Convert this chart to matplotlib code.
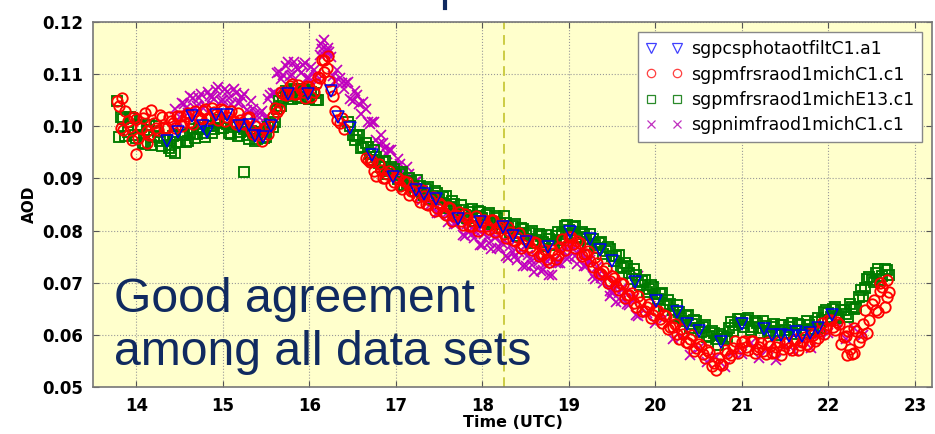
import matplotlib
matplotlib.use('Agg')
import matplotlib.pyplot as plt
from matplotlib.lines import Line2D
import numpy as np

# ---- data (time in UTC hours, AOD) ----
# each instrument is given as two interleaved passes of readings (a, b)

# sgpmfrsraod1michC1.c1 (red circles)
red_time_a = [13.80, 13.85, 13.90, 13.95, 14.00, 14.05, 14.10, 14.15, 14.20, 14.25,
              14.30, 14.35, 14.40, 14.45, 14.50, 14.55, 14.60, 14.65, 14.70, 14.75,
              14.80, 14.85, 14.90, 14.95, 15.00, 15.05, 15.10, 15.15, 15.20, 15.25,
              15.30, 15.35, 15.40, 15.45, 15.50, 15.55, 15.60, 15.65, 15.70, 15.75,
              15.80, 15.85, 15.90, 15.95, 16.00, 16.05, 16.10, 16.15, 16.20, 16.25,
              16.30, 16.35, 16.40, 16.65, 16.70, 16.75,
              16.80, 16.85, 16.90, 16.95, 17.00, 17.05, 17.10, 17.15, 17.20, 17.25,
              17.30, 17.35, 17.40, 17.45, 17.50, 17.55, 17.60, 17.65, 17.70, 17.75,
              17.80, 17.85, 17.90, 17.95, 18.00, 18.05, 18.10, 18.15, 18.20, 18.25,
              18.30, 18.35, 18.40, 18.45, 18.50, 18.55, 18.60, 18.65, 18.70, 18.75,
              18.80, 18.85, 18.90, 18.95, 19.00, 19.05, 19.10, 19.15, 19.20, 19.25,
              19.30, 19.35, 19.40, 19.45, 19.50, 19.55, 19.60, 19.65, 19.70, 19.75,
              19.80, 19.85, 19.90, 19.95, 20.00, 20.05, 20.10, 20.15, 20.20, 20.25,
              20.30, 20.35, 20.40, 20.45, 20.50, 20.55, 20.60, 20.65, 20.70, 20.75,
              20.80, 20.85, 20.90, 20.95, 21.00, 21.05, 21.10, 21.15, 21.20, 21.25,
              21.30, 21.35, 21.40, 21.45, 21.50, 21.55, 21.60, 21.65, 21.70, 21.75,
              21.80, 21.85, 21.90, 21.95, 22.00, 22.05, 22.10, 22.15, 22.20, 22.25,
              22.30, 22.35, 22.40, 22.45, 22.50, 22.55, 22.60, 22.65, 22.70,
              13.78, 13.83, 14.00, 14.12, 16.17, 16.22, 22.22, 22.30, 22.60, 22.68]
red_aod_a = [0.1039, 0.0992, 0.1011, 0.0974, 0.1014, 0.0997, 0.1025, 0.0983, 0.1007, 0.0993,
             0.1017, 0.0996, 0.1011, 0.0997, 0.1019, 0.1009, 0.1025, 0.1004, 0.1019, 0.1014,
             0.1034, 0.1016, 0.1028, 0.1012, 0.1032, 0.1018, 0.1030, 0.1004, 0.1013, 0.1004,
             0.1017, 0.0986, 0.0988, 0.0972, 0.0997, 0.1001, 0.1035, 0.1034, 0.1061, 0.1062,
             0.1082, 0.1061, 0.1071, 0.1055, 0.1075, 0.1066, 0.1095, 0.1128, 0.1112, 0.1069,
             0.1030, 0.1006, 0.0995, 0.0940, 0.0931, 0.0914,
             0.0927, 0.0901, 0.0908, 0.0887, 0.0902, 0.0886, 0.0895, 0.0869, 0.0876, 0.0864,
             0.0877, 0.0851, 0.0858, 0.0837, 0.0852, 0.0836, 0.0845, 0.0819, 0.0829, 0.0819,
             0.0832, 0.0809, 0.0818, 0.0800, 0.0819, 0.0808, 0.0820, 0.0797, 0.0806, 0.0794,
             0.0807, 0.0781, 0.0788, 0.0767, 0.0782, 0.0768, 0.0778, 0.0751, 0.0756, 0.0746,
             0.0762, 0.0746, 0.0768, 0.0762, 0.0787, 0.0774, 0.0780, 0.0751, 0.0756, 0.0742,
             0.0750, 0.0719, 0.0723, 0.0699, 0.0712, 0.0694, 0.0700, 0.0671, 0.0676, 0.0662,
             0.0674, 0.0646, 0.0653, 0.0632, 0.0647, 0.0631, 0.0638, 0.0611, 0.0616, 0.0602,
             0.0612, 0.0586, 0.0593, 0.0569, 0.0582, 0.0564, 0.0570, 0.0541, 0.0532, 0.0544,
             0.0570, 0.0556, 0.0575, 0.0565, 0.0587, 0.0576, 0.0588, 0.0565, 0.0576, 0.0569,
             0.0587, 0.0565, 0.0577, 0.0562, 0.0584, 0.0574, 0.0590, 0.0571, 0.0586, 0.0582,
             0.0604, 0.0589, 0.0608, 0.0602, 0.0629, 0.0616, 0.0625, 0.0583, 0.0597, 0.0573,
             0.0614, 0.0587, 0.0621, 0.0604, 0.0659, 0.0647, 0.0685, 0.0653, 0.0682,
             0.1048, 0.1055, 0.0947, 0.0968, 0.1105, 0.1135, 0.0562, 0.0565, 0.0700, 0.0705]
red_time_b = [13.825, 13.875, 13.925, 13.975, 14.025, 14.075, 14.125, 14.175, 14.225, 14.275,
              14.325, 14.375, 14.425, 14.475, 14.525, 14.575, 14.625, 14.675, 14.725, 14.775,
              14.825, 14.875, 14.925, 14.975, 15.025, 15.075, 15.125, 15.175, 15.225, 15.275,
              15.325, 15.375, 15.425, 15.475, 15.525, 15.575, 15.625, 15.675, 15.725, 15.775,
              15.825, 15.875, 15.925, 15.975, 16.025, 16.075, 16.125, 16.175, 16.225, 16.275,
              16.325, 16.375,
              16.675, 16.725, 16.775, 16.825, 16.875, 16.925, 16.975, 17.025, 17.075, 17.125,
              17.175, 17.225, 17.275, 17.325, 17.375, 17.425, 17.475, 17.525, 17.575, 17.625,
              17.675, 17.725, 17.775, 17.825, 17.875, 17.925, 17.975, 18.025, 18.075, 18.125,
              18.175, 18.225, 18.275, 18.325, 18.375, 18.425, 18.475, 18.525, 18.575, 18.625,
              18.675, 18.725, 18.775, 18.825, 18.875, 18.925, 18.975, 19.025, 19.075, 19.125,
              19.175, 19.225, 19.275, 19.325, 19.375, 19.425, 19.475, 19.525, 19.575, 19.625,
              19.675, 19.725, 19.775, 19.825, 19.875, 19.925, 19.975, 20.025, 20.075, 20.125,
              20.175, 20.225, 20.275, 20.325, 20.375, 20.425, 20.475, 20.525, 20.575, 20.625,
              20.675, 20.725, 20.775, 20.825, 20.875, 20.925, 20.975, 21.025, 21.075, 21.125,
              21.175, 21.225, 21.275, 21.325, 21.375, 21.425, 21.475, 21.525, 21.575, 21.625,
              21.675, 21.725, 21.775, 21.825, 21.875, 21.925, 21.975, 22.025, 22.075, 22.125,
              22.175, 22.225, 22.275, 22.325, 22.375, 22.425, 22.475, 22.525, 22.575, 22.625,
              22.675]
red_aod_b = [0.0996, 0.1029, 0.0998, 0.1018, 0.0978, 0.1015, 0.0991, 0.1031, 0.0997, 0.1021,
             0.0997, 0.1017, 0.1007, 0.1020, 0.1000, 0.1019, 0.1008, 0.1029, 0.1015, 0.1029,
             0.1015, 0.1036, 0.1023, 0.1034, 0.1011, 0.1026, 0.1010, 0.1026, 0.1007, 0.1015,
             0.0992, 0.1001, 0.0983, 0.0996, 0.0985, 0.1020, 0.1028, 0.1065, 0.1060, 0.1077,
             0.1062, 0.1080, 0.1066, 0.1077, 0.1057, 0.1082, 0.1093, 0.1128, 0.1086, 0.1058,
             0.1012, 0.1016,
             0.0935, 0.0934, 0.0905, 0.0917, 0.0900, 0.0915, 0.0893, 0.0900, 0.0879, 0.0893,
             0.0875, 0.0881, 0.0855, 0.0867, 0.0850, 0.0865, 0.0843, 0.0850, 0.0829, 0.0843,
             0.0827, 0.0835, 0.0810, 0.0824, 0.0809, 0.0827, 0.0808, 0.0820, 0.0803, 0.0820,
             0.0804, 0.0811, 0.0785, 0.0797, 0.0780, 0.0795, 0.0773, 0.0781, 0.0762, 0.0776,
             0.0756, 0.0762, 0.0739, 0.0757, 0.0753, 0.0783, 0.0773, 0.0787, 0.0766, 0.0777,
             0.0756, 0.0760, 0.0731, 0.0738, 0.0717, 0.0729, 0.0704, 0.0709, 0.0686, 0.0697,
             0.0676, 0.0680, 0.0653, 0.0663, 0.0645, 0.0660, 0.0638, 0.0645, 0.0623, 0.0636,
             0.0616, 0.0620, 0.0592, 0.0602, 0.0585, 0.0599, 0.0574, 0.0579, 0.0556, 0.0567,
             0.0546, 0.0556, 0.0542, 0.0566, 0.0561, 0.0588, 0.0575, 0.0588, 0.0571, 0.0588,
             0.0573, 0.0584, 0.0563, 0.0579, 0.0567, 0.0587, 0.0572, 0.0585, 0.0571, 0.0592,
             0.0581, 0.0595, 0.0578, 0.0600, 0.0594, 0.0623, 0.0614, 0.0629, 0.0609, 0.0621,
             0.0596, 0.0608, 0.0563, 0.0607, 0.0596, 0.0648, 0.0629, 0.0666, 0.0644, 0.0692,
             0.0673]

# sgpmfrsraod1michE13.c1 (green squares)
green_time_a = [13.80, 13.85, 13.90, 13.95, 14.00, 14.05, 14.10, 14.15, 14.20, 14.25,
                14.30, 14.35, 14.40, 14.45, 14.50, 14.55, 14.60, 14.65, 14.70, 14.75,
                14.80, 14.85, 14.90, 14.95, 15.00, 15.05, 15.10, 15.15, 15.20, 15.25,
                15.30, 15.35, 15.40, 15.45, 15.50, 15.55, 15.60, 15.65, 15.70, 15.75,
                15.80, 15.85, 15.90, 15.95, 16.00, 16.05, 16.10,
                16.45, 16.50, 16.55, 16.60, 16.65, 16.70, 16.75, 16.80, 16.85, 16.90,
                16.95, 17.00, 17.05, 17.10, 17.15, 17.20, 17.25, 17.30, 17.35, 17.40,
                17.45, 17.50, 17.55, 17.60, 17.65, 17.70, 17.75, 17.80, 17.85, 17.90,
                17.95, 18.00, 18.05, 18.10, 18.15, 18.20, 18.25, 18.30, 18.35, 18.40,
                18.45, 18.50, 18.55, 18.60, 18.65, 18.70, 18.75, 18.80, 18.85, 18.90,
                18.95, 19.00, 19.05, 19.10, 19.15, 19.20, 19.25, 19.30, 19.35, 19.40,
                19.45, 19.50, 19.55, 19.60, 19.65, 19.70, 19.75, 19.80, 19.85, 19.90,
                19.95, 20.00, 20.05, 20.10, 20.15, 20.20, 20.25, 20.30, 20.35, 20.40,
                20.45, 20.50, 20.55, 20.60, 20.65, 20.70, 20.75, 20.80, 20.85, 20.90,
                20.95, 21.00, 21.05, 21.10, 21.15, 21.20, 21.25, 21.30, 21.35, 21.40,
                21.45, 21.50, 21.55, 21.60, 21.65, 21.70, 21.75, 21.80, 21.85, 21.90,
                21.95, 22.00, 22.05, 22.10, 22.15, 22.20, 22.25, 22.30, 22.35, 22.40,
                22.45, 22.50, 22.55, 22.60, 22.65, 22.70,
                13.78, 14.40, 14.45, 15.24]
green_aod_a = [0.0980, 0.1014, 0.0989, 0.1016, 0.0978, 0.0998, 0.0966, 0.1003, 0.0980, 0.0990,
               0.0962, 0.0973, 0.0965, 0.0984, 0.0970, 0.0984, 0.0972, 0.0994, 0.0986, 0.0994,
               0.0980, 0.1001, 0.0994, 0.1012, 0.0996, 0.1004, 0.0986, 0.1002, 0.0989, 0.0994,
               0.0975, 0.0988, 0.0975, 0.0990, 0.0979, 0.1004, 0.1009, 0.1049, 0.1054, 0.1066,
               0.1052, 0.1070, 0.1057, 0.1070, 0.1052, 0.1064, 0.1051,
               0.1009, 0.0984, 0.0981, 0.0958, 0.0968, 0.0947, 0.0954, 0.0929, 0.0932, 0.0909,
               0.0921, 0.0907, 0.0909, 0.0888, 0.0901, 0.0885, 0.0897, 0.0874, 0.0880, 0.0861,
               0.0876, 0.0861, 0.0864, 0.0843, 0.0856, 0.0840, 0.0850, 0.0829, 0.0836, 0.0819,
               0.0837, 0.0824, 0.0829, 0.0812, 0.0828, 0.0815, 0.0827, 0.0804, 0.0809, 0.0789,
               0.0805, 0.0792, 0.0796, 0.0777, 0.0793, 0.0779, 0.0792, 0.0774, 0.0789, 0.0781,
               0.0809, 0.0802, 0.0806, 0.0785, 0.0798, 0.0783, 0.0794, 0.0772, 0.0776, 0.0755,
               0.0769, 0.0751, 0.0751, 0.0728, 0.0738, 0.0719, 0.0727, 0.0702, 0.0704, 0.0682,
               0.0695, 0.0678, 0.0678, 0.0655, 0.0666, 0.0648, 0.0657, 0.0632, 0.0636, 0.0614,
               0.0629, 0.0614, 0.0616, 0.0595, 0.0608, 0.0592, 0.0602, 0.0592, 0.0614, 0.0607,
               0.0631, 0.0622, 0.0628, 0.0610, 0.0626, 0.0613, 0.0627, 0.0608, 0.0616, 0.0599,
               0.0619, 0.0609, 0.0616, 0.0601, 0.0620, 0.0610, 0.0627, 0.0611, 0.0624, 0.0614,
               0.0644, 0.0641, 0.0649, 0.0632, 0.0648, 0.0640, 0.0660, 0.0649, 0.0672, 0.0674,
               0.0707, 0.0705, 0.0718, 0.0706, 0.0726, 0.0715,
               0.1048, 0.0952, 0.0948, 0.0912]
green_time_b = [13.825, 13.875, 13.925, 13.975, 14.025, 14.075, 14.125, 14.175, 14.225, 14.275,
                14.325, 14.375, 14.425, 14.475, 14.525, 14.575, 14.625, 14.675, 14.725, 14.775,
                14.825, 14.875, 14.925, 14.975, 15.025, 15.075, 15.125, 15.175, 15.225, 15.275,
                15.325, 15.375, 15.425, 15.475, 15.525, 15.575, 15.625, 15.675, 15.725, 15.775,
                15.825, 15.875, 15.925, 15.975, 16.025, 16.075,
                16.475, 16.525, 16.575, 16.625, 16.675, 16.725, 16.775, 16.825, 16.875, 16.925,
                16.975, 17.025, 17.075, 17.125, 17.175, 17.225, 17.275, 17.325, 17.375, 17.425,
                17.475, 17.525, 17.575, 17.625, 17.675, 17.725, 17.775, 17.825, 17.875, 17.925,
                17.975, 18.025, 18.075, 18.125, 18.175, 18.225, 18.275, 18.325, 18.375, 18.425,
                18.475, 18.525, 18.575, 18.625, 18.675, 18.725, 18.775, 18.825, 18.875, 18.925,
                18.975, 19.025, 19.075, 19.125, 19.175, 19.225, 19.275, 19.325, 19.375, 19.425,
                19.475, 19.525, 19.575, 19.625, 19.675, 19.725, 19.775, 19.825, 19.875, 19.925,
                19.975, 20.025, 20.075, 20.125, 20.175, 20.225, 20.275, 20.325, 20.375, 20.425,
                20.475, 20.525, 20.575, 20.625, 20.675, 20.725, 20.775, 20.825, 20.875, 20.925,
                20.975, 21.025, 21.075, 21.125, 21.175, 21.225, 21.275, 21.325, 21.375, 21.425,
                21.475, 21.525, 21.575, 21.625, 21.675, 21.725, 21.775, 21.825, 21.875, 21.925,
                21.975, 22.025, 22.075, 22.125, 22.175, 22.225, 22.275, 22.325, 22.375, 22.425,
                22.475, 22.525, 22.575, 22.625, 22.675]
green_aod_b = [0.1017, 0.0982, 0.1017, 0.0983, 0.1002, 0.0967, 0.0992, 0.0965, 0.1000, 0.0971,
               0.0977, 0.0959, 0.0982, 0.0970, 0.0984, 0.0970, 0.0987, 0.0977, 0.0997, 0.0987,
               0.1000, 0.0988, 0.1010, 0.0997, 0.1007, 0.0987, 0.0998, 0.0982, 0.0999, 0.0984,
               0.0991, 0.0972, 0.0990, 0.0977, 0.0998, 0.0999, 0.1033, 0.1038, 0.1067, 0.1059,
               0.1071, 0.1054, 0.1071, 0.1054, 0.1065, 0.1050,
               0.1001, 0.0973, 0.0983, 0.0960, 0.0961, 0.0935, 0.0941, 0.0922, 0.0934, 0.0914,
               0.0919, 0.0898, 0.0912, 0.0891, 0.0896, 0.0875, 0.0885, 0.0869, 0.0884, 0.0867,
               0.0873, 0.0853, 0.0867, 0.0846, 0.0851, 0.0829, 0.0839, 0.0824, 0.0841, 0.0827,
               0.0835, 0.0817, 0.0834, 0.0817, 0.0825, 0.0805, 0.0815, 0.0798, 0.0812, 0.0796,
               0.0803, 0.0784, 0.0800, 0.0782, 0.0789, 0.0770, 0.0783, 0.0773, 0.0798, 0.0794,
               0.0810, 0.0794, 0.0809, 0.0788, 0.0794, 0.0773, 0.0783, 0.0766, 0.0779, 0.0761,
               0.0765, 0.0741, 0.0753, 0.0730, 0.0732, 0.0707, 0.0714, 0.0695, 0.0706, 0.0687,
               0.0691, 0.0668, 0.0680, 0.0657, 0.0660, 0.0637, 0.0644, 0.0626, 0.0638, 0.0620,
               0.0626, 0.0605, 0.0619, 0.0598, 0.0603, 0.0581, 0.0597, 0.0595, 0.0624, 0.0618,
               0.0631, 0.0615, 0.0633, 0.0615, 0.0623, 0.0604, 0.0617, 0.0604, 0.0621, 0.0608,
               0.0619, 0.0603, 0.0622, 0.0607, 0.0618, 0.0603, 0.0619, 0.0609, 0.0632, 0.0628,
               0.0647, 0.0635, 0.0654, 0.0637, 0.0647, 0.0634, 0.0654, 0.0652, 0.0686, 0.0689,
               0.0711, 0.0702, 0.0726, 0.0713, 0.0724]

# sgpnimfraod1michC1.c1 (magenta crosses)
purple_time_a = [14.45, 14.50, 14.55, 14.60, 14.65, 14.70, 14.75, 14.80, 14.85, 14.90,
                 14.95, 15.00, 15.05, 15.10, 15.15, 15.20, 15.25, 15.30, 15.35, 15.40,
                 15.45, 15.50, 15.55, 15.60, 15.65, 15.70, 15.75, 15.80, 15.85, 15.90,
                 15.95, 16.00, 16.05, 16.10, 16.15, 16.20, 16.25, 16.30, 16.35, 16.40,
                 16.45, 16.50, 16.55, 16.60, 16.65, 16.70, 16.75, 16.80, 16.85, 16.90,
                 16.95, 17.00, 17.05, 17.10, 17.15, 17.20, 17.25, 17.30, 17.35, 17.40,
                 17.45, 17.50, 17.55, 17.60, 17.65, 17.70, 17.75, 17.80, 17.85, 17.90,
                 17.95, 18.00, 18.05, 18.10, 18.15, 18.20, 18.25, 18.30, 18.35, 18.40,
                 18.45, 18.50, 18.55, 18.60, 18.65, 18.70, 18.75, 18.80, 18.85, 18.90,
                 18.95, 19.00, 19.05, 19.10, 19.15, 19.20, 19.25, 19.30, 19.35, 19.40,
                 19.45, 19.50, 19.55, 19.60, 19.65, 19.70, 19.75, 19.80,
                 19.90, 20.00, 20.10, 20.20, 20.30, 20.40, 20.50, 20.60, 20.70, 20.80,
                 20.90, 21.00, 21.10, 21.20, 21.30, 21.40, 21.50, 21.60, 21.70, 21.80,
                 21.90, 22.00, 22.10, 22.20, 22.30, 22.40,
                 19.80, 19.55, 19.47, 16.17, 16.13, 16.22]
purple_aod_a = [0.1034, 0.1018, 0.1043, 0.1026, 0.1054, 0.1039, 0.1061, 0.1038, 0.1058, 0.1052,
                0.1076, 0.1050, 0.1065, 0.1042, 0.1064, 0.1046, 0.1061, 0.1028, 0.1034, 0.1012,
                0.1029, 0.1018, 0.1060, 0.1064, 0.1104, 0.1099, 0.1123, 0.1098, 0.1114, 0.1102,
                0.1122, 0.1093, 0.1107, 0.1089, 0.1149, 0.1144, 0.1133, 0.1086, 0.1092, 0.1072,
                0.1084, 0.1048, 0.1060, 0.1024, 0.1034, 0.1004, 0.1008, 0.0966, 0.0967, 0.0947,
                0.0954, 0.0920, 0.0927, 0.0896, 0.0909, 0.0884, 0.0895, 0.0859, 0.0867, 0.0850,
                0.0864, 0.0833, 0.0845, 0.0816, 0.0834, 0.0812, 0.0823, 0.0789, 0.0800, 0.0785,
                0.0802, 0.0773, 0.0787, 0.0764, 0.0786, 0.0767, 0.0781, 0.0748, 0.0759, 0.0744,
                0.0762, 0.0732, 0.0745, 0.0721, 0.0742, 0.0724, 0.0741, 0.0714, 0.0737, 0.0737,
                0.0769, 0.0750, 0.0765, 0.0736, 0.0754, 0.0732, 0.0743, 0.0708, 0.0717, 0.0700,
                0.0714, 0.0682, 0.0693, 0.0664, 0.0681, 0.0658, 0.0670, 0.0636,
                0.0642, 0.0622, 0.0632, 0.0593, 0.0595, 0.0562, 0.0574, 0.0547, 0.0558, 0.0538,
                0.0567, 0.0564, 0.0584, 0.0556, 0.0573, 0.0552, 0.0579, 0.0569, 0.0593, 0.0574,
                0.0602, 0.0604, 0.0624, 0.0593, 0.0613, 0.0599,
                0.0713, 0.0663, 0.0675, 0.1166, 0.1158, 0.1150]
purple_time_b = [14.475, 14.525, 14.575, 14.625, 14.675, 14.725, 14.775, 14.825, 14.875, 14.925,
                 14.975, 15.025, 15.075, 15.125, 15.175, 15.225, 15.275, 15.325, 15.375, 15.425,
                 15.475, 15.525, 15.575, 15.625, 15.675, 15.725, 15.775, 15.825, 15.875, 15.925,
                 15.975, 16.025, 16.075, 16.125, 16.175, 16.225, 16.275, 16.325, 16.375, 16.425,
                 16.475, 16.525, 16.575, 16.625, 16.675, 16.725, 16.775, 16.825, 16.875, 16.925,
                 16.975, 17.025, 17.075, 17.125, 17.175, 17.225, 17.275, 17.325, 17.375, 17.425,
                 17.475, 17.525, 17.575, 17.625, 17.675, 17.725, 17.775, 17.825, 17.875, 17.925,
                 17.975, 18.025, 18.075, 18.125, 18.175, 18.225, 18.275, 18.325, 18.375, 18.425,
                 18.475, 18.525, 18.575, 18.625, 18.675, 18.725, 18.775, 18.825, 18.875, 18.925,
                 18.975, 19.025, 19.075, 19.125, 19.175, 19.225, 19.275, 19.325, 19.375, 19.425,
                 19.475, 19.525, 19.575, 19.625, 19.675, 19.725, 19.775]
purple_aod_b = [0.1012, 0.1045, 0.1036, 0.1059, 0.1036, 0.1054, 0.1036, 0.1066, 0.1056, 0.1069,
                0.1049, 0.1072, 0.1055, 0.1072, 0.1045, 0.1057, 0.1031, 0.1049, 0.1024, 0.1026,
                0.1009, 0.1053, 0.1064, 0.1103, 0.1091, 0.1115, 0.1097, 0.1124, 0.1109, 0.1117,
                0.1093, 0.1114, 0.1099, 0.1137, 0.1136, 0.1142, 0.1096, 0.1107, 0.1083, 0.1083,
                0.1052, 0.1068, 0.1043, 0.1047, 0.1008, 0.1009, 0.0973, 0.0984, 0.0958, 0.0955,
                0.0923, 0.0938, 0.0913, 0.0921, 0.0886, 0.0893, 0.0863, 0.0881, 0.0859, 0.0862,
                0.0834, 0.0853, 0.0832, 0.0843, 0.0812, 0.0821, 0.0792, 0.0812, 0.0793, 0.0798,
                0.0773, 0.0794, 0.0777, 0.0793, 0.0766, 0.0777, 0.0751, 0.0771, 0.0752, 0.0758,
                0.0733, 0.0753, 0.0734, 0.0750, 0.0722, 0.0736, 0.0714, 0.0743, 0.0738, 0.0758,
                0.0745, 0.0772, 0.0752, 0.0763, 0.0732, 0.0741, 0.0712, 0.0730, 0.0709, 0.0712,
                0.0684, 0.0702, 0.0680, 0.0691, 0.0659, 0.0667, 0.0639]

# sgpcsphotaotfiltC1.a1 (blue triangles)
blue_time = [14.35, 14.48, 14.64, 14.77, 14.82, 14.92, 15.05, 15.19, 15.30, 15.37,
             15.46, 15.56, 15.75, 15.98, 16.25, 16.33, 16.47, 16.72, 16.97, 17.23,
             17.32, 17.47, 17.72, 17.97, 18.24, 18.35, 18.50, 18.76, 19.01, 19.25,
             19.36, 19.50, 19.76, 20.01, 20.25, 20.36, 20.50, 20.76, 21.00, 21.26,
             21.35, 21.45, 21.54, 21.63, 21.69, 21.79, 21.88, 22.04]
blue_aod = [0.0971, 0.0990, 0.1019, 0.1000, 0.0990, 0.1022, 0.1022, 0.1000, 0.1002, 0.0981,
            0.0979, 0.1000, 0.1061, 0.1062, 0.1067, 0.1018, 0.0996, 0.0945, 0.0903, 0.0877,
            0.0870, 0.0861, 0.0822, 0.0816, 0.0807, 0.0790, 0.0779, 0.0769, 0.0797, 0.0784,
            0.0762, 0.0741, 0.0702, 0.0665, 0.0644, 0.0621, 0.0607, 0.0586, 0.0620, 0.0612,
            0.0599, 0.0599, 0.0597, 0.0605, 0.0598, 0.0603, 0.0614, 0.0639]

x_ticks = [14, 15, 16, 17, 18, 19, 20, 21, 22, 23]
y_ticks = [0.05, 0.06, 0.07, 0.08, 0.09, 0.10, 0.11, 0.12]
marker_time = 18.25   # dashed vertical line

# ---- figure ----
fig = plt.figure(figsize=(9.35, 4.34), dpi=100)
ax = fig.add_axes([0.0995, 0.1083, 0.8975, 0.841])
ax.set_facecolor('#ffffcc')

# purple underneath, then green, red, and the triangles on top
ax.plot(purple_time_a + purple_time_b, purple_aod_a + purple_aod_b, 'x',
        color='#bf00bf', ms=6.5, mew=1.25, ls='none', zorder=2)
ax.plot(green_time_a + green_time_b, green_aod_a + green_aod_b, 's',
        mfc='none', mec='#007a00', ms=6.5, mew=1.35, ls='none', zorder=3)
ax.plot(red_time_a + red_time_b, red_aod_a + red_aod_b, 'o',
        mfc='none', mec='#ff0000', ms=7.5, mew=1.35, ls='none', zorder=4)
ax.plot(blue_time, blue_aod, 'v', mfc='none', mec='#0000ee', ms=8, mew=1.1,
        ls='none', zorder=5)

ax.axvline(marker_time, color='#cccc44', ls=(0, (5, 3)), lw=1.4, zorder=1)

ax.set_xlim(13.5, 23.2)
ax.set_ylim(0.05, 0.12)
ax.set_xticks(x_ticks)
ax.set_yticks(y_ticks)
ax.set_yticklabels(['%.2f' % v for v in y_ticks])
ax.grid(True, color='#999999', ls=':', lw=0.8)
ax.set_axisbelow(True)
ax.tick_params(direction='in', top=True, right=True, length=4, width=0.8,
               labelsize=12, pad=7, color='#555555')
for lab in ax.get_xticklabels() + ax.get_yticklabels():
    lab.set_fontweight('bold')
for sp in ax.spines.values():
    sp.set_color('#777777')
    sp.set_linewidth(1.2)

ax.set_xlabel('Time (UTC)', fontsize=11.5, fontweight='bold', labelpad=0)
ax.set_ylabel('AOD', fontsize=11, fontweight='bold', labelpad=4)

# legend keys drawn with thinner, lighter markers than the data
keys = [Line2D([], [], ls='none', marker='v', mfc='none', mec='#4040ff', ms=7, mew=0.9),
        Line2D([], [], ls='none', marker='o', mfc='none', mec='#ff4040', ms=6, mew=0.9),
        Line2D([], [], ls='none', marker='s', mfc='none', mec='#2a8a2a', ms=6, mew=0.9),
        Line2D([], [], ls='none', marker='x', mfc='none', mec='#c030c0', ms=6, mew=0.9)]
labels = ['sgpcsphotaotfiltC1.a1', 'sgpmfrsraod1michC1.c1',
          'sgpmfrsraod1michE13.c1', 'sgpnimfraod1michC1.c1']
leg = ax.legend(keys, labels, loc='upper right', numpoints=2,
                fontsize=12.5, handlelength=2.1, handletextpad=0.5,
                labelspacing=0.42, borderpad=0.45, borderaxespad=0.6,
                fancybox=False, framealpha=1.0)
leg.get_frame().set_edgecolor('#888888')
leg.get_frame().set_facecolor('white')

ax.text(13.745, 0.0644, 'Good agreement', fontsize=34.7, color='#102a60',
        family='Liberation Sans', va='baseline', ha='left', zorder=6)
ax.text(13.745, 0.0542, 'among all data sets', fontsize=34.7, color='#102a60',
        family='Liberation Sans', va='baseline', ha='left', zorder=6)

# sliver of the cropped slide title above the chart
fig.add_artist(Line2D([445 / 935, 445 / 935], [1.0, 1 - 8 / 434],
                      transform=fig.transFigure, color='#102a60', lw=3))

fig.savefig('out.png', dpi=100)
